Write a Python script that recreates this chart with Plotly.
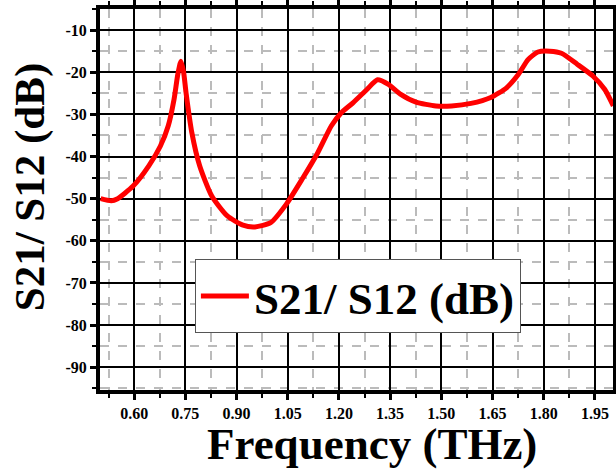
import plotly.graph_objects as go

freq = [0.502, 0.533, 0.55, 0.597, 0.643, 0.677, 0.70, 0.717, 0.728, 0.737, 0.745, 0.752,
        0.769, 0.792, 0.827, 0.873, 0.919, 0.954, 1.0, 1.046, 1.092, 1.138, 1.178, 1.207,
        1.242, 1.282, 1.313, 1.345, 1.38, 1.426, 1.484, 1.53, 1.587, 1.645, 1.691, 1.726,
        1.754, 1.783, 1.818, 1.852, 1.898, 1.944, 1.979, 2.004]
s21 = [-50.0, -50.5, -50.1, -47.0, -42.2, -37.5, -32.7, -26.4, -20.5, -17.4, -20.0, -24.8,
       -34.3, -42.2, -49.3, -54.1, -56.3, -56.7, -55.7, -51.3, -45.4, -39.1, -32.7, -29.6,
       -27.2, -24.1, -21.8, -22.9, -25.2, -27.1, -28.0, -28.0, -27.4, -26.0, -23.7, -20.5,
       -17.0, -15.2, -15.0, -15.5, -18.1, -20.9, -24.1, -28.0]

xtick_vals = [0.60, 0.75, 0.90, 1.05, 1.20, 1.35, 1.50, 1.65, 1.80, 1.95]
xtick_text = ["0.60", "0.75", "0.90", "1.05", "1.20", "1.35", "1.50", "1.65", "1.80", "1.95"]
ytick_vals = [-10, -20, -30, -40, -50, -60, -70, -80, -90]
ytick_text = ["-10", "-20", "-30", "-40", "-50", "-60", "-70", "-80", "-90"]

series_name = "S21/ S12 (dB)"
x_title = "Frequency (THz)"
y_title = "S21/ S12 (dB)"

FONT = "Liberation Serif"

fig = go.Figure()
fig.add_trace(go.Scatter(x=freq, y=s21, mode="lines", name=series_name,
                         line=dict(color="#ff0000", width=5, shape="spline", smoothing=0.6)))

axis_common = dict(
    showline=True, linewidth=4, linecolor="black", mirror="ticks",
    ticks="outside", ticklen=6, tickwidth=3, tickcolor="black",
    showgrid=True, gridcolor="black", gridwidth=2,
    zeroline=False, automargin=False,
    tickfont=dict(family=FONT, size=16, color="black", weight="bold"),
)

fig.update_xaxes(
    range=[0.5, 2.003], tickvals=xtick_vals, ticktext=xtick_text,
    minor=dict(tick0=0.525, dtick=0.075, ticks="outside", ticklen=4, tickwidth=2, tickcolor="black",
               showgrid=True, gridcolor="#bbbbbb", griddash="dash", gridwidth=1.5),
    **axis_common,
)
fig.update_yaxes(
    range=[-95.4, -5], tickvals=ytick_vals, ticktext=ytick_text,
    minor=dict(tick0=-5, dtick=5, ticks="outside", ticklen=4, tickwidth=2, tickcolor="black",
               showgrid=True, gridcolor="#bbbbbb", griddash="dash", gridwidth=1.5),
    **axis_common,
)

fig.add_annotation(text=x_title, xref="paper", yref="paper", x=0.531, y=-0.141,
                   xanchor="center", yanchor="middle", showarrow=False,
                   font=dict(family=FONT, size=45, color="black", weight="bold"))
fig.add_annotation(text=y_title, xref="paper", yref="paper", x=-0.137, y=0.534,
                   xanchor="center", yanchor="middle", showarrow=False, textangle=-90,
                   font=dict(family=FONT, size=43, color="black", weight="bold"))

fig.update_layout(
    width=616, height=470,
    margin=dict(l=100, r=3, t=9, b=80),
    plot_bgcolor="white", paper_bgcolor="white",
    showlegend=True,
    legend=dict(x=0.185, y=0.343, xanchor="left", yanchor="top",
                bgcolor="white", bordercolor="#555555", borderwidth=1,
                font=dict(family=FONT, size=45, color="black", weight="bold"),
                itemwidth=48),
)

fig.write_html("out.html", config={"displayModeBar": False},
               post_script="document.body.style.margin='0';document.body.style.overflow='hidden';")
